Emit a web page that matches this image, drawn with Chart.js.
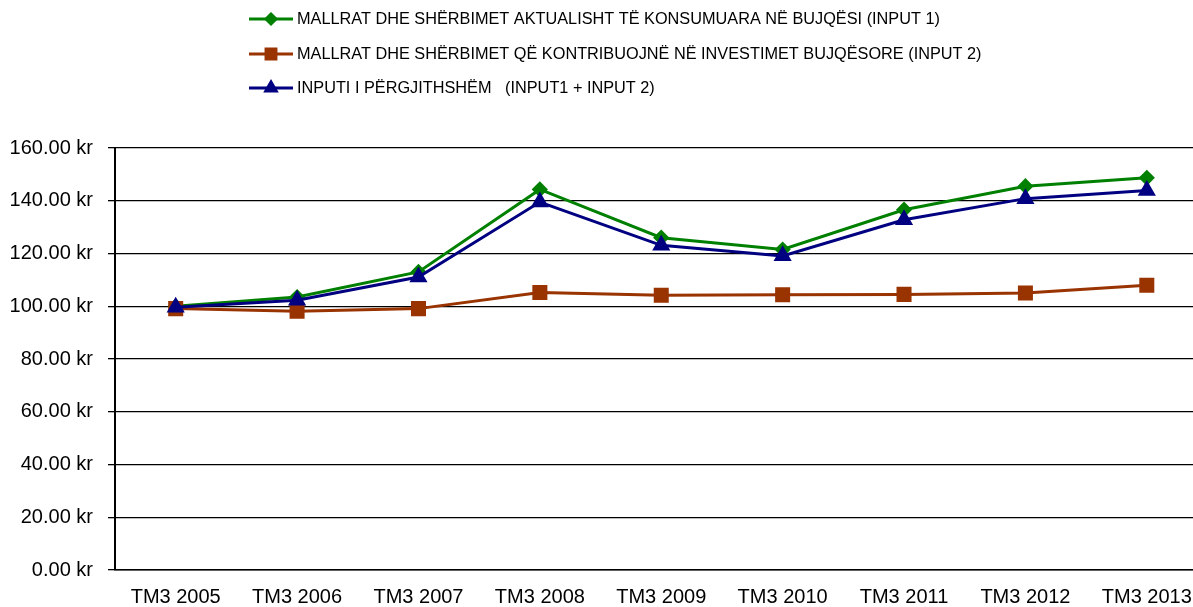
<!DOCTYPE html>
<html>
<head>
<meta charset="utf-8">
<script src="https://cdn.jsdelivr.net/npm/chart.js@4.4.0/dist/chart.umd.min.js"></script>
<style>
  html, body { margin: 0; padding: 0; background: #fff; overflow: hidden; }
  #grafiku { display: block; }
</style>
</head>
<body>
<canvas id="grafiku" width="1219" height="607"></canvas>
<script>
const kategorite = ['TM3 2005', 'TM3 2006', 'TM3 2007', 'TM3 2008', 'TM3 2009', 'TM3 2010', 'TM3 2011', 'TM3 2012', 'TM3 2013'];

const input1 = [100.0, 103.5, 113.0, 144.3, 126.0, 121.5, 136.6, 145.5, 148.7];
const input2 = [99.1, 98.1, 99.1, 105.2, 104.2, 104.4, 104.5, 105.0, 108.0];
const inputTotal = [99.6, 102.3, 111.1, 139.5, 123.1, 119.1, 132.8, 140.8, 143.9];

const emrat = [
  'MALLRAT DHE SHËRBIMET AKTUALISHT TË KONSUMUARA NË BUJQËSI (INPUT 1)',
  'MALLRAT DHE SHËRBIMET QË KONTRIBUOJNË NË INVESTIMET BUJQËSORE (INPUT 2)',
  'INPUTI I PËRGJITHSHËM   (INPUT1 + INPUT 2)'
];

const yTicks = [0, 20, 40, 60, 80, 100, 120, 140, 160];

Chart.defaults.font.family = "'Liberation Sans', Arial, sans-serif";
Chart.defaults.color = '#000';

// legjenda e vizatuar me dore, majtas lart si ne origjinal
const legjenda = {
  id: 'legjenda',
  afterDraw(chart) {
    const ctx = chart.ctx;
    const rreshtat = [19, 54, 88];
    chart.data.datasets.forEach((ds, i) => {
      const y = rreshtat[i];
      ctx.save();
      ctx.strokeStyle = ds.borderColor;
      ctx.lineWidth = 3;
      ctx.beginPath();
      ctx.moveTo(249, y);
      ctx.lineTo(293, y);
      ctx.stroke();
      ctx.fillStyle = ds.borderColor;
      ctx.strokeStyle = ds.borderColor;
      Chart.helpers.drawPoint(ctx, {
        pointStyle: ds.pointStyle,
        radius: ds.legendRadius,
        borderWidth: 1,
        rotation: 0
      }, 271, y);
      ctx.fillStyle = '#000';
      ctx.font = "16.3px 'Liberation Sans', Arial, sans-serif";
      ctx.textBaseline = 'middle';
      ctx.textAlign = 'left';
      ctx.fillText(ds.label, 297, y + 1);
      ctx.restore();
    });
  }
};

const canva = document.getElementById('grafiku');

new Chart(canva, {
  type: 'line',
  data: {
    labels: kategorite,
    datasets: [
      {
        label: emrat[0],
        data: input1,
        borderColor: '#008000',
        backgroundColor: '#008000',
        borderWidth: 3,
        pointStyle: 'rectRot',
        pointRadius: 6,
        legendRadius: 5,
        order: 2
      },
      {
        label: emrat[1],
        data: input2,
        borderColor: '#993300',
        backgroundColor: '#993300',
        borderWidth: 3,
        pointStyle: 'rect',
        pointRadius: 8.5,
        legendRadius: 7,
        order: 1
      },
      {
        label: emrat[2],
        data: inputTotal,
        borderColor: '#000080',
        backgroundColor: '#000080',
        borderWidth: 3,
        pointStyle: 'triangle',
        pointRadius: 7.5,
        legendRadius: 6,
        order: 0
      }
    ]
  },
  options: {
    responsive: false,
    animation: false,
    devicePixelRatio: 1,
    layout: {
      padding: { top: 148, left: 0, right: 0, bottom: 0 }
    },
    plugins: {
      legend: { display: false },
      tooltip: { enabled: false }
    },
    scales: {
      x: {
        offset: true,
        afterFit: scale => {
          scale.height = 37;
        },
        grid: { display: false, drawTicks: false },
        border: { display: true, color: '#000', width: 1.5 },
        ticks: {
          font: { size: 20, lineHeight: 1 },
          color: '#000',
          padding: 17,
          maxRotation: 0,
          autoSkip: false
        }
      },
      y: {
        min: 0,
        max: 160,
        afterBuildTicks: scale => {
          scale.ticks = yTicks.map(v => ({ value: v }));
        },
        afterFit: scale => {
          scale.width = 115;
        },
        grid: {
          color: '#000',
          lineWidth: 1.3,
          tickLength: 7
        },
        border: { display: true, color: '#000', width: 2 },
        ticks: {
          font: { size: 20 },
          color: '#000',
          padding: 15,
          callback: v => v.toFixed(2) + ' kr'
        }
      }
    }
  },
  plugins: [legjenda]
});
</script>
</body>
</html>
